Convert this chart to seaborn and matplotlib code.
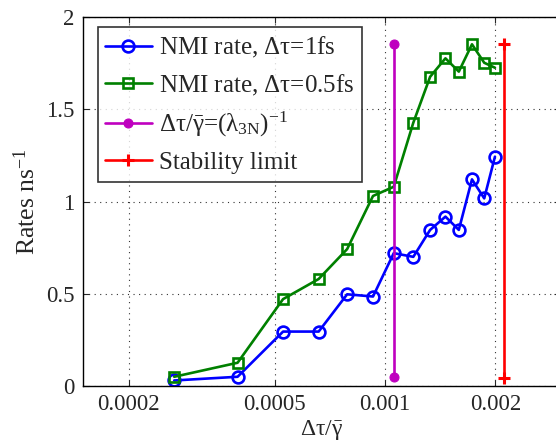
import numpy as np
import pandas as pd
import matplotlib
matplotlib.use("Agg")
import matplotlib.pyplot as plt
import seaborn as sns

# Time step ratio (dt / gamma_bar) for each run
dt_ratio = [0.000266, 0.000396, 0.000527, 0.000659, 0.000788, 0.000927,
            0.001056, 0.001194, 0.001327, 0.001461, 0.001589, 0.001726,
            0.001864, 0.001994]

# NMI rates in ns^-1
rate_dt1 = [0.03, 0.05, 0.295, 0.295, 0.497, 0.485, 0.72, 0.70,
            0.846, 0.918, 0.846, 1.12, 1.017, 1.243]
rate_dt05 = [0.05, 0.126, 0.471, 0.58, 0.742, 1.03, 1.08, 1.427,
             1.676, 1.776, 1.704, 1.852, 1.752, 1.725]

# Vertical reference markers
lambda_x = [0.001056, 0.001056]
lambda_y = [0.05, 1.852]
stab_x = [0.002108, 0.002108]
stab_y = [0.045, 1.852]

x_ticks = [0.0002, 0.0005, 0.001, 0.002]
x_ticklabels = ["0.0002", "0.0005", "0.001", "0.002"]
y_ticks = [0, 0.5, 1, 1.5, 2]
y_ticklabels = ["0", "0.5", "1", "1.5", "2"]

sns.set_style("ticks")
plt.rcParams["font.family"] = ["Liberation Serif", "DejaVu Serif"]
plt.rcParams["mathtext.fontset"] = "custom"
plt.rcParams["mathtext.rm"] = "Liberation Serif"
plt.rcParams["mathtext.it"] = "Liberation Serif"
plt.rcParams["mathtext.bf"] = "Liberation Serif:bold"

fig = plt.figure(figsize=(5.56, 4.42), dpi=100)
ax = fig.add_axes([83 / 556, 56 / 442, 477 / 556, 369 / 442])

df1 = pd.DataFrame({"x": dt_ratio, "y": rate_dt1})
df05 = pd.DataFrame({"x": dt_ratio, "y": rate_dt05})
dfl = pd.DataFrame({"x": lambda_x, "y": lambda_y})
dfs = pd.DataFrame({"x": stab_x, "y": stab_y})

lw = 1.9
sns.lineplot(data=df1, x="x", y="y", ax=ax, color="#0000ff", lw=lw,
             marker="o", markersize=8.5, markerfacecolor="none",
             markeredgecolor="#0000ff", markeredgewidth=1.9,
             estimator=None, sort=False,
             label=r"NMI rate, $\Delta\tau$=1fs")
sns.lineplot(data=df05, x="x", y="y", ax=ax, color="#008000", lw=lw,
             marker="s", markersize=7, markerfacecolor="none",
             markeredgecolor="#008000", markeredgewidth=1.9,
             estimator=None, sort=False,
             label=r"NMI rate, $\Delta\tau$=0.5fs")
sns.lineplot(data=dfl, x="x", y="y", ax=ax, color="#bf00bf", lw=lw,
             marker="o", markersize=6.5, markerfacecolor="#bf00bf",
             markeredgecolor="#bf00bf",
             estimator=None, sort=False,
             label=r"$\Delta\tau/\bar{\gamma}$=$(\lambda_{3\mathrm{N}})^{-1}$")
sns.lineplot(data=dfs, x="x", y="y", ax=ax, color="#ff0000", lw=lw,
             marker="+", markersize=8, markeredgewidth=2.2,
             markeredgecolor="#ff0000",
             estimator=None, sort=False,
             label="Stability limit")

ax.set_xscale("log")
ax.set_xlim(0.00015, 0.003)
ax.set_ylim(0, 2)
ax.set_xticks(x_ticks)
ax.set_xticklabels(x_ticklabels)
ax.xaxis.set_minor_locator(matplotlib.ticker.NullLocator())
ax.set_yticks(y_ticks)
ax.set_yticklabels(y_ticklabels)

ax.tick_params(axis="both", which="major", direction="in", length=4,
               width=0.8, labelsize=16.5, top=True, right=True, pad=6)
ax.grid(True, which="major", linestyle=(0, (1, 4)), color="#333333",
        linewidth=0.8)
for sp in ax.spines.values():
    sp.set_linewidth(1.0)
    sp.set_color("black")

ax.set_xlabel(r"$\Delta\tau/\bar{\gamma}$", fontsize=17, labelpad=2)
ax.set_ylabel(r"Rates ns$^{-1}$", fontsize=18.5)
ax.yaxis.set_label_coords(-0.09, 0.5)

leg = ax.legend(loc="upper left", bbox_to_anchor=(0.031, 0.972),
                borderaxespad=0, fontsize=18, frameon=True, fancybox=False,
                handlelength=1.85, handletextpad=0.3, labelspacing=0.5,
                borderpad=0.3)
leg.get_frame().set_edgecolor("black")
leg.get_frame().set_linewidth(1.2)

fig.savefig("out.png", dpi=100)
